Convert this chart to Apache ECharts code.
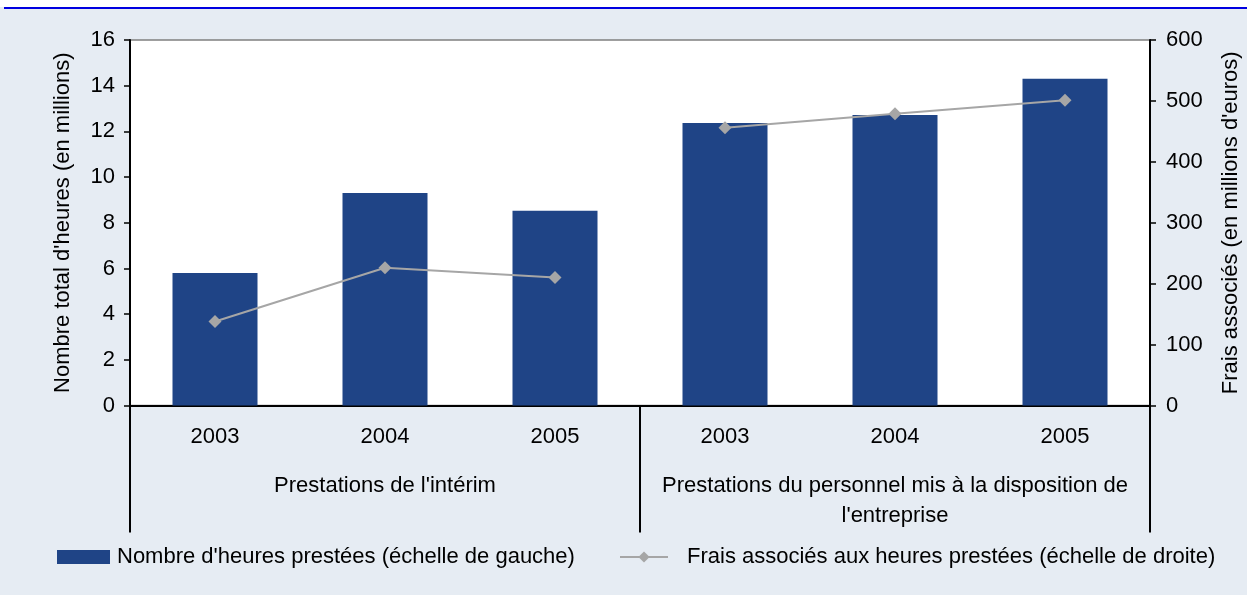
<!DOCTYPE html>
<html>
<head>
<meta charset="utf-8">
<script src="https://cdn.jsdelivr.net/npm/echarts@6/dist/echarts.min.js"></script>
<style>
html,body{margin:0;padding:0;background:#fff;}
#c{width:1247px;height:595px;}
</style>
</head>
<body>
<div id="c"></div>
<script>
const categories = ['2003', '2004', '2005', '2003', '2004', '2005'];
const groups = ["Prestations de l'intérim", "Prestations du personnel mis à la disposition de\nl'entreprise"];
const hours = [5.8, 9.3, 8.52, 12.37, 12.72, 14.3];
const feesInterim = [138, 226, 210, null, null, null];
const feesPersonnel = [null, null, null, 456, 479, 501];
const leftTicks = { min: 0, max: 16, interval: 2 };
const rightTicks = { min: 0, max: 600, interval: 100 };
const barName = "Nombre d'heures prestées (échelle de gauche)";
const lineName = "Frais associés aux heures prestées (échelle de droite)";

const FONT = 'Liberation Sans, Arial, sans-serif';
const FS = 22;
const chart = echarts.init(document.getElementById('c'));
const lineColor = '#a6a6a6';

chart.setOption({
  backgroundColor: '#e6ecf3',
  textStyle: { fontFamily: FONT, color: '#000' },
  graphic: [
    { type: 'rect', shape: { x: 0, y: 0, width: 1247, height: 7 }, style: { fill: '#fff' } },
    { type: 'line', shape: { x1: 4, y1: 8, x2: 1247, y2: 8 }, style: { stroke: '#0000e0', lineWidth: 2 } }
  ],
  grid: {
    left: 130, right: 97, top: 40, bottom: 189.5,
    outerBoundsMode: 'none', containLabel: false,
    show: true, backgroundColor: '#fff', borderColor: '#808080', borderWidth: 1.5
  },
  legend: [
    {
      data: [{ name: barName, icon: 'rect' }], left: 52, top: 539, itemWidth: 53, itemHeight: 14, itemGap: 0,
      textStyle: { fontFamily: FONT, fontSize: FS, lineHeight: 26, color: '#000', padding: [0, 0, 0, 2] }
    },
    {
      data: [lineName], left: 614, top: 539, itemWidth: 48, itemHeight: 14,
      textStyle: { fontFamily: FONT, fontSize: FS, lineHeight: 26, color: '#000', padding: [0, 0, 0, 14] }
    }
  ],
  xAxis: [
    {
      type: 'category', data: categories, boundaryGap: true,
      axisLine: { lineStyle: { color: '#000', width: 2 } },
      axisTick: { show: false },
      axisLabel: { fontFamily: FONT, fontSize: FS, color: '#000', margin: 20, lineHeight: 22 }
    },
    {
      type: 'category', data: groups, boundaryGap: true, position: 'bottom', offset: 0,
      axisLine: { show: false },
      axisTick: { show: true, length: 127, lineStyle: { color: '#000', width: 2 } },
      axisLabel: { fontFamily: FONT, fontSize: FS, color: '#000', margin: 65, lineHeight: 30, interval: 0 }
    }
  ],
  yAxis: [
    {
      type: 'value', min: leftTicks.min, max: leftTicks.max, interval: leftTicks.interval,
      name: "Nombre total d'heures (en millions)", nameLocation: 'middle', nameGap: 56,
      nameTextStyle: { fontFamily: FONT, fontSize: FS, color: '#000' },
      axisLine: { show: true, lineStyle: { color: '#000', width: 2 } },
      axisTick: { show: true, length: 6, lineStyle: { color: '#000', width: 1.5 } },
      axisLabel: { fontFamily: FONT, fontSize: FS, color: '#000', margin: 15 },
      splitLine: { show: false }
    },
    {
      type: 'value', min: rightTicks.min, max: rightTicks.max, interval: rightTicks.interval,
      name: "Frais associés (en millions d'euros)", nameLocation: 'middle', nameGap: 70,
      nameTextStyle: { fontFamily: FONT, fontSize: FS, color: '#000' },
      axisLine: { show: true, lineStyle: { color: '#000', width: 2 } },
      axisTick: { show: true, length: 6, lineStyle: { color: '#000', width: 1.5 } },
      axisLabel: { fontFamily: FONT, fontSize: FS, color: '#000', margin: 16 },
      splitLine: { show: false }
    }
  ],
  series: [
    {
      name: barName, type: 'bar', data: hours, barWidth: '50%', xAxisIndex: 0, yAxisIndex: 0,
      itemStyle: { color: '#1f4486' }
    },
    {
      name: lineName, type: 'line', data: feesInterim, xAxisIndex: 0, yAxisIndex: 1,
      symbol: 'diamond', symbolSize: 13, connectNulls: false,
      lineStyle: { color: lineColor, width: 2 }, itemStyle: { color: lineColor }
    },
    {
      name: lineName, type: 'line', data: feesPersonnel, xAxisIndex: 0, yAxisIndex: 1,
      symbol: 'diamond', symbolSize: 13, connectNulls: false,
      lineStyle: { color: lineColor, width: 2 }, itemStyle: { color: lineColor }
    }
  ]
});
</script>
</body>
</html>
